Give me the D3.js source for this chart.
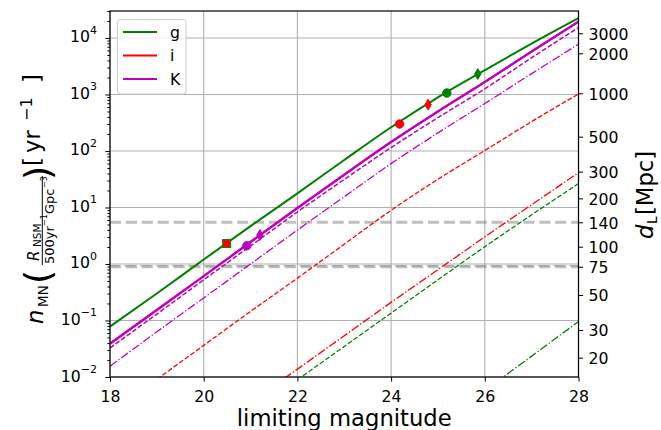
<!DOCTYPE html>
<html>
<head>
<meta charset="utf-8">
<script src="https://cdn.jsdelivr.net/npm/d3@7"></script>
<style>
  html, body { margin: 0; padding: 0; background: #ffffff; }
  svg { display: block; font-family: "DejaVu Sans", sans-serif; }
</style>
</head>
<body>
<svg id="chart" width="661" height="430"></svg>
<script>
// ---- data -------------------------------------------------------------
// limiting magnitude grid for each curve
const magFull     = [18, 19, 20, 21, 22, 23, 24, 25, 26, 27, 28];
const magIDashed  = [19, 20, 21, 22, 23, 24, 25, 26, 27, 28];
const magIDashDot = [21, 22, 23, 24, 25, 26, 27, 28];
const magGDashed  = [22, 23, 24, 25, 26, 27, 28];
const magGDashDot = [26, 27, 28];

// expected numbers of detections per year
const gSolid   = [0.078, 0.30, 1.20, 4.68, 17.8, 69.2, 263, 891, 2690, 7940, 22400];
const gDashed  = [0.00891, 0.0347, 0.135, 0.525, 2.02, 7.41, 26.5];
const gDashDot = [0.00575, 0.0234, 0.0959];
const iSolid   = [0.0388, 0.153, 0.610, 2.45, 9.77, 38.0, 144, 501, 1660, 5750, 19500];
const iDashed  = [0.00912, 0.0363, 0.145, 0.562, 2.24, 8.91, 31.6, 102, 331, 1020];
const iDashDot = [0.00355, 0.0138, 0.0537, 0.209, 0.794, 3.02, 11.2, 41.4];
const kSolid   = [0.0388, 0.153, 0.610, 2.45, 9.77, 38.0, 144, 501, 1660, 5750, 19500];
const kDashed  = [0.0326, 0.130, 0.525, 2.09, 8.32, 31.3, 115, 389, 1260, 4470, 15300];
const kDashDot = [0.0155, 0.0631, 0.251, 1.0, 3.98, 15.5, 59.7, 209, 692, 2340, 7760];

// individual events
const eventMag   = [24.18, 24.79, 25.19, 25.85, 20.49, 20.92, 21.20];
const eventRate  = [300, 660, 1060, 2300, 2.3, 2.1, 3.25];
const eventShape = ["circle", "thin", "circle", "thin", "square", "circle", "thin"];
const eventBand  = ["i", "i", "g", "g", "i", "K", "K"];

// reference distances (horizontal guides), in the same rate units
const guideRates = [5.47, 0.93, 0.895];

// axes ticks
const xTicks = [18, 20, 22, 24, 26, 28];
const yExponents = [-2, -1, 0, 1, 2, 3, 4];
const dlTicks = [20, 30, 50, 75, 100, 140, 200, 300, 500, 1000, 2000, 3000];
const dlTickRates = [0.0220, 0.0679, 0.283, 0.895, 2.02, 5.47, 14.5, 43.0, 179, 1050, 5350, 12100];

const bandNames = ["g", "i", "K"];
const bandColors = { g: "#008000", i: "#ff0000", K: "#bf00bf" };

// ---- layout -----------------------------------------------------------
const pL = 110, pR = 578.5, pT = 11, pB = 377;
const svg = d3.select("#chart");

const x = d3.scaleLinear().domain([18, 28]).range([pL, pR]);
const y = d3.scaleLog().domain([1e-2, 3e4]).range([pB, pT]);

const series = [
  { mags: magFull,     vals: gSolid,   band: "g", dash: null,              w: 2.0 },
  { mags: magGDashed,  vals: gDashed,  band: "g", dash: "4.8,2.1",         w: 1.3 },
  { mags: magGDashDot, vals: gDashDot, band: "g", dash: "8.3,2.1,1.3,2.1", w: 1.3 },
  { mags: magFull,     vals: iSolid,   band: "i", dash: null,              w: 1.8 },
  { mags: magIDashed,  vals: iDashed,  band: "i", dash: "4.8,2.1",         w: 1.3 },
  { mags: magIDashDot, vals: iDashDot, band: "i", dash: "8.3,2.1,1.3,2.1", w: 1.3 },
  { mags: magFull,     vals: kSolid,   band: "K", dash: null,              w: 2.4 },
  { mags: magFull,     vals: kDashed,  band: "K", dash: "4.8,2.1",         w: 1.5 },
  { mags: magFull,     vals: kDashDot, band: "K", dash: "8.3,2.1,1.3,2.1", w: 1.3 }
];

svg.append("defs").append("clipPath").attr("id", "plotArea")
  .append("rect").attr("x", pL).attr("y", pT)
  .attr("width", pR - pL).attr("height", pB - pT);

// ---- grid -------------------------------------------------------------
const grid = svg.append("g").attr("stroke", "#b0b0b0").attr("stroke-width", 1.1);
grid.selectAll("line.gx").data(xTicks).join("line").attr("class", "gx")
  .attr("x1", d => x(d)).attr("x2", d => x(d))
  .attr("y1", pT).attr("y2", pB);
grid.selectAll("line.gy").data(yExponents).join("line").attr("class", "gy")
  .attr("x1", pL).attr("x2", pR)
  .attr("y1", d => y(Math.pow(10, d))).attr("y2", d => y(Math.pow(10, d)));

// ---- horizontal guides ------------------------------------------------
svg.append("g").attr("clip-path", "url(#plotArea)")
  .selectAll("line").data(guideRates).join("line")
  .attr("x1", pL).attr("x2", pR)
  .attr("y1", d => y(d)).attr("y2", d => y(d))
  .attr("stroke", "#808080").attr("stroke-opacity", 0.5)
  .attr("stroke-width", (d, i) => i === 1 ? 1.6 : 3)
  .attr("stroke-dasharray", "11.1,4.8")
  .attr("stroke-dashoffset", (d, i) => i === 1 ? 1.5 : 0);

// ---- curves -----------------------------------------------------------
const line = d3.line().curve(d3.curveMonotoneX);
svg.append("g").attr("clip-path", "url(#plotArea)")
  .selectAll("path").data(series).join("path")
  .attr("d", s => line(s.mags.map((m, i) => [x(m), y(s.vals[i])])))
  .attr("fill", "none")
  .attr("stroke", s => bandColors[s.band])
  .attr("stroke-width", s => s.w)
  .attr("stroke-dasharray", s => s.dash);

// ---- events -----------------------------------------------------------
const ev = svg.append("g").selectAll("g").data(eventMag).join("g")
  .attr("transform", (m, i) => `translate(${x(m)},${y(eventRate[i])})`);
ev.each(function (m, i) {
  const g = d3.select(this);
  const c = bandColors[eventBand[i]];
  if (eventShape[i] === "circle") {
    g.append("circle").attr("r", 4.2).attr("fill", c).attr("stroke", c);
  } else if (eventShape[i] === "thin") {
    g.append("path").attr("d", "M0,-5.4L3.2,0L0,5.4L-3.2,0Z")
      .attr("fill", c).attr("stroke", c).attr("stroke-width", 1);
  } else {
    g.append("rect").attr("x", -4).attr("y", -4).attr("width", 8).attr("height", 8)
      .attr("fill", c).attr("stroke", bandColors.g).attr("stroke-width", 1);
  }
});

// ---- axes -------------------------------------------------------------
const tickFont = 15.7;

// bottom
const xAxis = svg.append("g").attr("transform", `translate(0,${pB})`)
  .call(d3.axisBottom(x).tickValues(xTicks).tickSize(4.6).tickSizeOuter(0).tickFormat(d3.format("d")));
xAxis.selectAll("text").attr("y", 24.5).attr("dy", 0)
  .attr("font-size", tickFont).attr("fill", "#000").attr("font-family", "DejaVu Sans");

// left major + minor
const minorRates = [];
yExponents.forEach(e => { for (let k = 2; k <= 9; k++) { const v = k * Math.pow(10, e); if (v <= 3e4) minorRates.push(v); } });
svg.append("g").attr("transform", `translate(${pL},0)`)
  .call(d3.axisLeft(y).tickValues(minorRates).tickSize(2.6).tickSizeOuter(0).tickFormat(""));
const yAxis = svg.append("g").attr("transform", `translate(${pL},0)`)
  .call(d3.axisLeft(y).tickValues(yExponents.map(e => Math.pow(10, e))).tickSize(4.6).tickSizeOuter(0).tickFormat(""));
yAxis.selectAll(".tick").each(function (v, i) {
  const e = yExponents[i];
  const t = d3.select(this).append("text")
    .attr("x", -13).attr("y", 4).attr("text-anchor", "end")
    .attr("fill", "#000").attr("font-size", tickFont).attr("font-family", "DejaVu Sans");
  t.append("tspan").text("10");
  t.append("tspan").attr("dy", -8.5).attr("font-size", 11)
    .text(e < 0 ? "\u2212" + Math.abs(e) : String(e));
});

// right
const rAxis = svg.append("g").attr("transform", `translate(${pR},0)`)
  .call(d3.axisRight(y).tickValues(dlTickRates).tickSize(4.6).tickSizeOuter(0)
    .tickFormat((d, i) => String(dlTicks[i])));
rAxis.selectAll("text").attr("x", 10).attr("dy", "0.37em")
  .attr("font-size", tickFont).attr("fill", "#000").attr("font-family", "DejaVu Sans");

svg.selectAll(".domain").remove();
svg.selectAll(".tick line").attr("stroke", "#000").attr("stroke-width", 1);

// frame
svg.append("rect").attr("x", pL).attr("y", pT)
  .attr("width", pR - pL).attr("height", pB - pT)
  .attr("fill", "none").attr("stroke", "#000").attr("stroke-width", 1.2);

// ---- legend -----------------------------------------------------------
const leg = svg.append("g");
leg.append("rect").attr("x", 117.5).attr("y", 19.5).attr("width", 68.5).attr("height", 74.5)
  .attr("rx", 3).attr("fill", "#fff").attr("fill-opacity", 0.8)
  .attr("stroke", "#cccccc").attr("stroke-width", 1);
const legItems = leg.selectAll("g.item").data(bandNames).join("g").attr("class", "item")
  .attr("transform", (d, i) => `translate(0,${32 + i * 23.5})`);
legItems.append("line").attr("x1", 123).attr("x2", 157).attr("y1", 0).attr("y2", 0)
  .attr("stroke", d => bandColors[d]).attr("stroke-width", 2);
legItems.append("text").attr("x", 170).attr("y", 5.5)
  .attr("font-size", tickFont).attr("fill", "#000").text(d => d);

// ---- axis titles ------------------------------------------------------
svg.append("text").attr("x", (pL + pR) / 2).attr("y", 426)
  .attr("text-anchor", "middle").attr("font-size", 22.7).attr("fill", "#000")
  .text("limiting magnitude");

// rotated pieces: [text, start (screen y), baseline (screen x), size, italic]
function rotatedPieces(pieces) {
  const g = svg.append("g").attr("transform", "rotate(-90)");
  pieces.forEach(p => {
    g.append("text").attr("x", -p[1]).attr("y", p[2])
      .attr("font-size", p[3]).attr("font-style", p[4] ? "italic" : "normal")
      .attr("fill", "#000").text(p[0]);
  });
  return g;
}

const yl = rotatedPieces([
  ["n", 324, 43, 22.7, true],
  ["MN", 307, 47.5, 13.5, false],
  ["(", 284, 50, 36, false],
  ["R", 261, 38.5, 15, true],
  ["NSM", 247, 41, 10.5, false],
  ["500yr", 264, 54, 13, false],
  ["\u22121", 226, 47, 8, false],
  ["Gpc", 214, 54, 13, false],
  ["\u22123", 188, 47, 8, false],
  [")", 180, 50, 36, false],
  ["[", 166, 40, 22.7, false],
  ["yr", 153, 40, 22.7, false],
  ["\u22121", 121, 32, 16, false],
  ["]", 83, 40, 22.7, false]
]);
yl.append("line").attr("x1", -265).attr("x2", -176).attr("y1", 42.3).attr("y2", 42.3)
  .attr("stroke", "#000").attr("stroke-width", 1);

rotatedPieces([
  ["d", 239, 653, 22.7, true],
  ["L", 224, 657, 13.5, false],
  ["[Mpc]", 215, 653, 22.7, false]
]);
</script>
</body>
</html>
